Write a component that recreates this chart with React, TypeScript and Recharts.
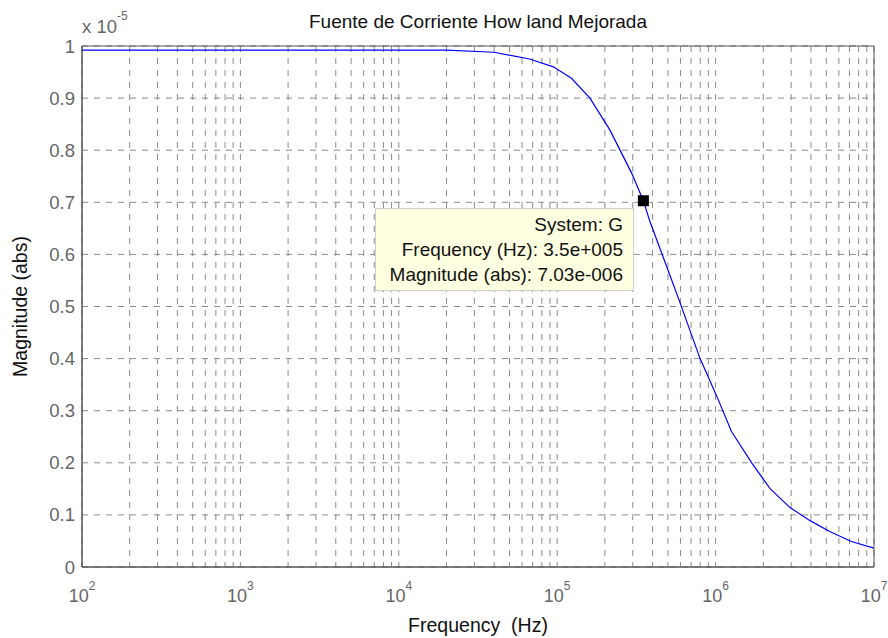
import {
  LineChart, Line, XAxis, YAxis, CartesianGrid, Label,
  ReferenceDot, ReferenceArea,
} from 'recharts';

// Bode magnitude, values shown in units of 1e-5
const freqHz = [
  100, 20000, 40000, 67000, 94500, 123000, 161000, 215000, 295000, 350000,
  385000, 528000, 582000, 798000, 1020000, 1260000, 1690000, 2200000,
  2950000, 3950000, 5250000, 7200000, 10000000,
];
const magnitudeE5 = [
  0.992, 0.992, 0.988, 0.975, 0.96, 0.938, 0.9, 0.839, 0.756, 0.703,
  0.663, 0.551, 0.516, 0.4, 0.327, 0.26, 0.2, 0.151,
  0.114, 0.089, 0.068, 0.049, 0.036,
];

const decades = [2, 3, 4, 5, 6];
const minorSteps = [1, 2, 3, 4, 5, 6, 7, 8, 9];
const xTicks = [...decades.flatMap((e) => minorSteps.map((m) => m * 10 ** e)), 1e7];
const yTicks = [0, 0.1, 0.2, 0.3, 0.4, 0.5, 0.6, 0.7, 0.8, 0.9, 1];

const markerFreq = 350000;
const markerMag = 0.703;
const tipLines = ['System: G', 'Frequency (Hz): 3.5e+005', 'Magnitude (abs): 7.03e-006'];

const FONT = '"Liberation Sans", Arial, Helvetica, sans-serif';
const TICK_COLOR = '#666';

const data = freqHz.map((f, i) => ({ f, m: magnitudeE5[i] }));

function DecadeTick(props: any) {
  const { x, y, payload } = props;
  const exp = Math.log10(payload.value);
  if (Math.abs(exp - Math.round(exp)) > 1e-9) return null;
  return (
    <text x={x} y={y + 33} textAnchor="middle" fill={TICK_COLOR} fontSize={18} fontFamily={FONT}>
      10
      <tspan dy={-12} fontSize={12}>{Math.round(exp)}</tspan>
    </text>
  );
}

export default function App() {
  return (
    <div style={{ position: 'absolute', left: 0, top: 0, width: 888, height: 638, background: '#fff' }}>
      <LineChart
        width={888}
        height={638}
        data={data}
        margin={{ top: 46, right: 14, left: 0, bottom: 0 }}
        style={{ fontFamily: FONT }}
      >
        <CartesianGrid stroke="#8c8c8c" strokeDasharray="6 6" />
        <XAxis
          dataKey="f"
          type="number"
          scale="log"
          domain={[100, 1e7]}
          ticks={xTicks}
          interval={0}
          allowDataOverflow
          height={71}
          tickLine={false}
          tickSize={0}
          axisLine={{ stroke: '#555' }}
          tick={<DecadeTick />}
        >
          <Label
            value={'Frequency\u00a0 (Hz)'}
            position="insideBottom"
            offset={6}
            fill="#111"
            fontSize={19.5}
            fontFamily={FONT}
          />
        </XAxis>
        <YAxis
          type="number"
          domain={[0, 1]}
          ticks={yTicks}
          interval={0}
          width={82}
          tickLine={false}
          tickSize={0}
          tickMargin={7}
          axisLine={{ stroke: '#555' }}
          tick={{ fill: TICK_COLOR, fontSize: 18.5, fontFamily: FONT }}
        >
          <Label
            value="Magnitude (abs)"
            angle={-90}
            position="insideLeft"
            offset={20}
            textAnchor="middle"
            fill="#111"
            fontSize={19.5}
            fontFamily={FONT}
          />
        </YAxis>
        <ReferenceArea x1={100} x2={1e7} y1={0} y2={1} fill="none" stroke="#555" ifOverflow="visible" />
        <Line
          type="linear"
          dataKey="m"
          stroke="#0000ff"
          strokeWidth={1.2}
          dot={false}
          isAnimationActive={false}
        />
        <ReferenceDot
          x={markerFreq}
          y={markerMag}
          r={5.5}
          shape={(p: any) => <rect x={p.cx - 5.5} y={p.cy - 5.5} width={11} height={11} fill="#000" />}
        />
      </LineChart>
      <svg
        width={888}
        height={638}
        style={{ position: 'absolute', left: 0, top: 0, pointerEvents: 'none' }}
        fontFamily={FONT}
      >
        <text x={478} y={28} textAnchor="middle" fontSize={19} fill="#111">
          Fuente de Corriente How land Mejorada
        </text>
        <text x={82} y={33} fontSize={18.5} fill={TICK_COLOR}>
          x 10
          <tspan dy={-13} fontSize={12}>-5</tspan>
        </text>
        <rect x={375.5} y={208.5} width={258} height={82} fill="#ffffe1" stroke="#cfcfcf" />
        {tipLines.map((t, i) => (
          <text key={t} x={623} y={230.5 + i * 25} textAnchor="end" fontSize={19} fill="#111">
            {t}
          </text>
        ))}
      </svg>
    </div>
  );
}
